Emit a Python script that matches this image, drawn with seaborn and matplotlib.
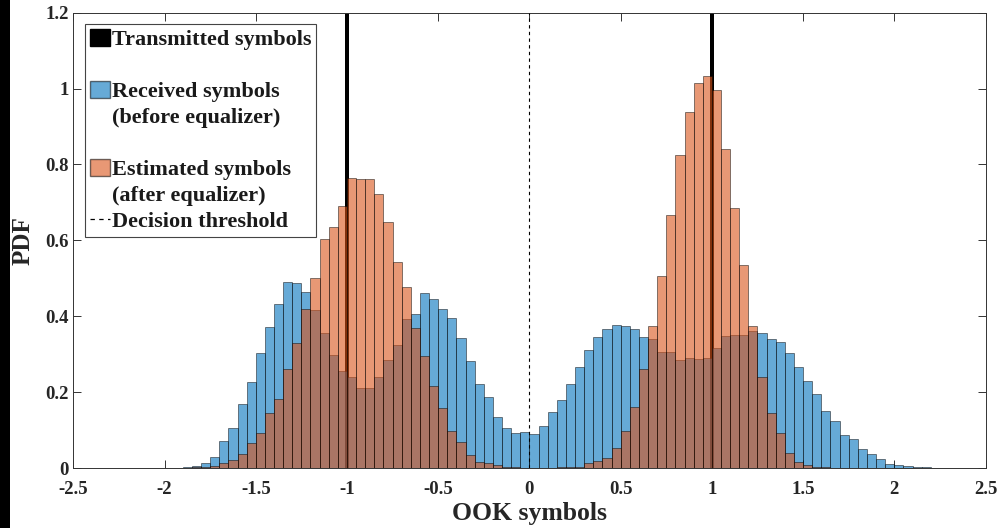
import numpy as np
import pandas as pd
import matplotlib
matplotlib.use("Agg")
import matplotlib.pyplot as plt
from matplotlib.patches import Patch, Rectangle
from matplotlib.lines import Line2D
import seaborn as sns

# ---------------- data ----------------
bin_width = 0.05
received_first_bin = -1.90
received_pdf = [
    0.002, 0.005, 0.012, 0.028, 0.070, 0.106, 0.170, 0.227, 0.303, 0.371,
    0.431, 0.491, 0.487, 0.464, 0.416, 0.355, 0.299, 0.255, 0.239, 0.210,
    0.211, 0.239, 0.285, 0.323, 0.393, 0.406, 0.460, 0.446, 0.418, 0.396,
    0.343, 0.283, 0.221, 0.186, 0.135, 0.106, 0.093, 0.094, 0.090, 0.112,
    0.147, 0.179, 0.222, 0.267, 0.310, 0.345, 0.366, 0.376, 0.375, 0.366,
    0.345, 0.341, 0.307, 0.307, 0.285, 0.291, 0.288, 0.289, 0.317, 0.348,
    0.351, 0.350, 0.362, 0.357, 0.339, 0.331, 0.304, 0.265, 0.230, 0.195,
    0.151, 0.124, 0.086, 0.077, 0.050, 0.037, 0.024, 0.011, 0.007, 0.005,
    0.004, 0.002, 0.001,
]
estimated_first_bin = -1.90
estimated_pdf = [
    0.001, 0.002, 0.004, 0.006, 0.012, 0.022, 0.037, 0.066, 0.093, 0.145,
    0.181, 0.261, 0.330, 0.419, 0.500, 0.603, 0.634, 0.690, 0.764, 0.762,
    0.762, 0.723, 0.649, 0.544, 0.478, 0.369, 0.296, 0.215, 0.157, 0.098,
    0.069, 0.034, 0.017, 0.013, 0.007, 0.003, 0.002, 0.001, 0.001, 0.001,
    0.001, 0.002, 0.002, 0.004, 0.012, 0.019, 0.027, 0.052, 0.098, 0.160,
    0.261, 0.373, 0.505, 0.668, 0.826, 0.938, 1.015, 1.032, 0.995, 0.841,
    0.685, 0.536, 0.373, 0.239, 0.144, 0.091, 0.040, 0.015, 0.007, 0.004,
    0.002,
]
transmitted_symbols = [-1.0, 1.0]
transmitted_pdf = [20.0, 20.0]
decision_threshold = 0.0

x_ticks = [-2.5, -2.0, -1.5, -1.0, -0.5, 0.0, 0.5, 1.0, 1.5, 2.0, 2.5]
x_tick_labels = ["-2.5", "-2", "-1.5", "-1", "-0.5", "0", "0.5", "1", "1.5", "2", "2.5"]
y_ticks = [0.0, 0.2, 0.4, 0.6, 0.8, 1.0, 1.2]
y_tick_labels = ["0", "0.2", "0.4", "0.6", "0.8", "1", "1.2"]
legend_labels = [
    "Transmitted symbols",
    "Received symbols\n(before equalizer)",
    "Estimated symbols\n(after equalizer)",
    "Decision threshold",
]
x_label = "OOK symbols"
y_label = "PDF"

# ---------------- styling ----------------
sns.set_style("ticks")
plt.rcParams["font.family"] = ["Liberation Serif", "DejaVu Serif"]
plt.rcParams["font.weight"] = "bold"

blue = (0.0, 0.447, 0.741)
orange = (0.850, 0.325, 0.098)
edge = (0.0, 0.0, 0.0, 0.55)
axis_col = "#333333"
serif_bold = {"family": ["Liberation Serif"], "weight": "bold"}


def hist_frame(first, values):
    n = len(values)
    edges = np.round(first + bin_width * np.arange(n + 1), 6)
    centers = (edges[:-1] + edges[1:]) / 2
    df = pd.DataFrame({"symbol": centers, "pdf": np.asarray(values, float)})
    return df, [float(e) for e in edges]


fig = plt.figure(figsize=(10.03, 5.28), dpi=100)
ax = fig.add_axes([0.0731, 0.1136, 0.9095, 0.8624])

# transmitted symbols (black bars)
ax.bar(transmitted_symbols, transmitted_pdf, width=0.022, color="black",
       edgecolor="black", linewidth=0, zorder=1)

rdf, re = hist_frame(received_first_bin, received_pdf)
sns.histplot(data=rdf, x="symbol", weights="pdf", bins=re, stat="count", ax=ax,
             color=blue, alpha=0.6, edgecolor=edge, linewidth=0.6, zorder=2)

edf, ee = hist_frame(estimated_first_bin, estimated_pdf)
sns.histplot(data=edf, x="symbol", weights="pdf", bins=ee, stat="count", ax=ax,
             color=orange, alpha=0.6, edgecolor=edge, linewidth=0.6, zorder=3)

ax.axvline(decision_threshold, color="black", linestyle=(0, (3, 3)),
           linewidth=0.8, zorder=4)

ax.set_xlim(-2.5, 2.5)
ax.set_ylim(0, 1.2)
ax.set_xticks(x_ticks)
ax.set_xticklabels(x_tick_labels)
ax.set_yticks(y_ticks)
ax.set_yticklabels(y_tick_labels)
ax.tick_params(direction="in", top=True, right=True, length=6, width=0.7,
               colors=axis_col, labelsize=13.5, labelcolor="#262626")
ax.tick_params(axis="x", pad=9)
ax.tick_params(axis="y", pad=3.5)
for lab in ax.get_xticklabels() + ax.get_yticklabels():
    lab.set_fontweight("bold")
for s in ax.spines.values():
    s.set_visible(True)
    s.set_color(axis_col)
    s.set_linewidth(0.7)

ax.set_xlabel(x_label, fontsize=18.5, fontweight="bold", color="#262626")
ax.set_ylabel(y_label, fontsize=18, fontweight="bold", color="#262626")
ax.xaxis.set_label_coords(0.5, -0.074)
ax.yaxis.set_label_coords(-0.042, 0.5)

# legend: one row per text line, first line of each entry carries the key
handles = [
    Patch(facecolor="black", edgecolor="black"),
    Patch(facecolor=(*blue, 0.6), edgecolor=edge),
    Patch(facecolor=(*orange, 0.6), edgecolor=edge),
    Line2D([0], [0], color="black", linestyle=(0, (3.5, 3.5)), linewidth=0.9),
]
rows_h, rows_l = [], []
for h, lab in zip(handles, legend_labels):
    lines = lab.split("\n")
    if len(lines) > 1 and rows_l:
        rows_h.append(Patch(facecolor="none", edgecolor="none"))
        rows_l.append(" ")
    rows_h.append(h)
    rows_l.append(lines[0])
    for ln in lines[1:]:
        rows_h.append(Patch(facecolor="none", edgecolor="none"))
        rows_l.append(ln)

leg = ax.legend(rows_h, rows_l, loc="upper left",
                bbox_to_anchor=(0.0128, 0.9752), borderaxespad=0,
                prop={**serif_bold, "size": 16},
                handlelength=0.9, handleheight=0.81, handletextpad=0.08,
                labelspacing=0.21, frameon=True, fancybox=False,
                framealpha=1, edgecolor="#444444", borderpad=0.22)
leg.get_frame().set_linewidth(0.8)
for t in leg.get_texts():
    t.set_color("#1a1a1a")

# black strip at the left edge of the image
fig.patches.append(Rectangle((0, 0), 10 / 1003, 1, transform=fig.transFigure,
                             facecolor="black", edgecolor="none", zorder=0))

fig.savefig("out.png", dpi=100)
